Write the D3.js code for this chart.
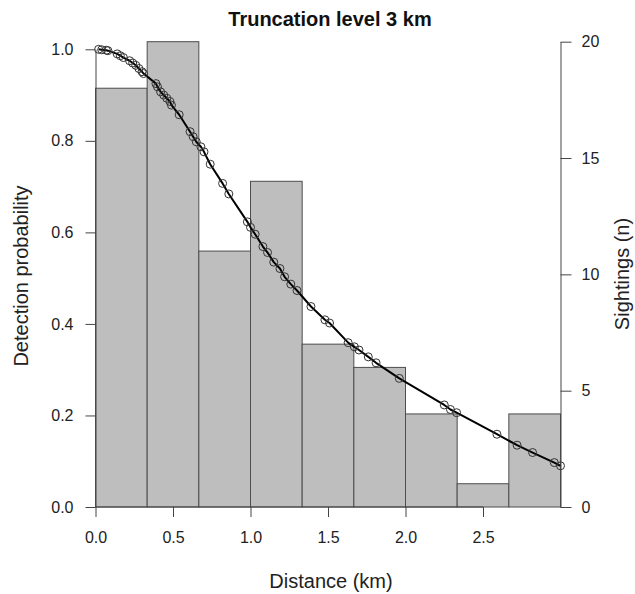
<!DOCTYPE html>
<html>
<head>
<meta charset="utf-8">
<script src="https://cdn.jsdelivr.net/npm/d3@7"></script>
<style>
  body { margin: 0; background: #fff; }
  svg { font-family: "Liberation Sans", Arial, sans-serif; }
</style>
</head>
<body>
<svg id="chart"></svg>
<script>
// histogram of sightings, bins of 1/3 km
var binStarts = [0, 1/3, 2/3, 1, 4/3, 5/3, 2, 7/3, 8/3];
var binCounts = [18, 20, 11, 14, 7, 6, 4, 1, 4];

// observed distances with the fitted detection probability at each one
var distances = [0.02, 0.04, 0.07, 0.08, 0.14, 0.16, 0.18, 0.22, 0.24, 0.26, 0.28, 0.30, 0.31,
  0.39, 0.40, 0.42, 0.44, 0.46, 0.48, 0.49, 0.54, 0.61, 0.63, 0.65, 0.68, 0.70, 0.74,
  0.82, 0.86, 0.98, 1.00, 1.03, 1.08, 1.11, 1.15, 1.19, 1.22, 1.26, 1.30, 1.39, 1.48, 1.51,
  1.63, 1.67, 1.70, 1.76, 1.81, 1.96, 2.25, 2.29, 2.33, 2.59, 2.72, 2.82, 2.96, 3.00];
var detection = [1.000, 0.999, 0.998, 0.997, 0.990, 0.986, 0.982, 0.975, 0.970, 0.965, 0.958, 0.951, 0.947,
  0.925, 0.918, 0.907, 0.900, 0.893, 0.886, 0.878, 0.857, 0.820, 0.809, 0.798, 0.787, 0.776, 0.749,
  0.707, 0.684, 0.623, 0.611, 0.596, 0.569, 0.556, 0.535, 0.521, 0.503, 0.487, 0.473, 0.438, 0.409, 0.402,
  0.359, 0.350, 0.343, 0.328, 0.315, 0.281, 0.223, 0.213, 0.206, 0.159, 0.135, 0.119, 0.097, 0.090];

var xTicks = [0, 0.5, 1, 1.5, 2, 2.5];
var yLeftTicks = [0, 0.2, 0.4, 0.6, 0.8, 1.0];
var yRightTicks = [0, 5, 10, 15, 20];

var width = 635, height = 594;
var axisColor = "#444";

var svg = d3.select("#chart")
    .attr("width", width)
    .attr("height", height);

// scales
var x = d3.scaleLinear().domain([0, 3]).range([95.5, 560.5]);
var yL = d3.scaleLinear().domain([0, 1]).range([507, 49.3]);
var yR = d3.scaleLinear().domain([0, 20]).range([507, 41.7]);

// histogram bars
svg.append("g")
  .selectAll("rect")
  .data(binCounts)
  .join("rect")
    .attr("x", function(d, i) { return x(binStarts[i]); })
    .attr("y", function(d) { return yR(d); })
    .attr("width", function(d, i) { return x(binStarts[i] + 1/3) - x(binStarts[i]); })
    .attr("height", function(d) { return yR(0) - yR(d); })
    .attr("fill", "#bebebe")
    .attr("stroke", "#4d4d4d")
    .attr("stroke-width", 1);

// detection function line + points
var pts = distances.map(function(d, i) { return [d, detection[i]]; });
svg.append("path")
    .datum(pts)
    .attr("fill", "none")
    .attr("stroke", "#000")
    .attr("stroke-width", 2)
    .attr("stroke-linejoin", "round")
    .attr("d", d3.line()
      .x(function(d) { return x(d[0]); })
      .y(function(d) { return yL(d[1]); }));

svg.append("g")
  .selectAll("circle")
  .data(pts)
  .join("circle")
    .attr("cx", function(d) { return x(d[0]); })
    .attr("cy", function(d) { return yL(d[1]); })
    .attr("r", 4)
    .attr("fill", "none")
    .attr("stroke", "#333")
    .attr("stroke-width", 1);

// axes
function styleAxis(g) {
  g.selectAll("path, line").attr("stroke", axisColor);
  g.selectAll("text").attr("fill", "#222").style("font-size", "16px");
}

svg.append("g")
    .attr("transform", "translate(0,507)")
    .call(d3.axisBottom(x).tickValues(xTicks).tickSize(10).tickSizeOuter(0).tickPadding(15)
      .tickFormat(d3.format(".1f")))
    .call(function(g) {
      g.select(".domain").attr("d", "M" + x(0) + ",0H" + x(2.5));
      styleAxis(g);
    });

svg.append("g")
    .attr("transform", "translate(" + x(0) + ",0)")
    .call(d3.axisLeft(yL).tickValues(yLeftTicks).tickSize(10).tickSizeOuter(0).tickPadding(12)
      .tickFormat(d3.format(".1f")))
    .call(styleAxis);

svg.append("g")
    .attr("transform", "translate(" + x(3) + ",0)")
    .call(d3.axisRight(yR).tickValues(yRightTicks).tickSize(11).tickSizeOuter(0).tickPadding(10))
    .call(styleAxis);

// titles
svg.append("text")
    .attr("x", 330).attr("y", 26)
    .attr("text-anchor", "middle")
    .style("font-size", "20px")
    .style("font-weight", "bold")
    .attr("fill", "#111")
    .text("Truncation level 3 km");

svg.append("text")
    .attr("x", 331).attr("y", 588)
    .attr("text-anchor", "middle")
    .style("font-size", "20px")
    .attr("fill", "#222")
    .text("Distance (km)");

svg.append("text")
    .attr("transform", "translate(28,276) rotate(-90)")
    .attr("text-anchor", "middle")
    .style("font-size", "20px")
    .attr("fill", "#222")
    .text("Detection probability");

svg.append("text")
    .attr("transform", "translate(629,274) rotate(-90)")
    .attr("text-anchor", "middle")
    .style("font-size", "20px")
    .attr("fill", "#222")
    .text("Sightings (n)");
</script>
</body>
</html>
